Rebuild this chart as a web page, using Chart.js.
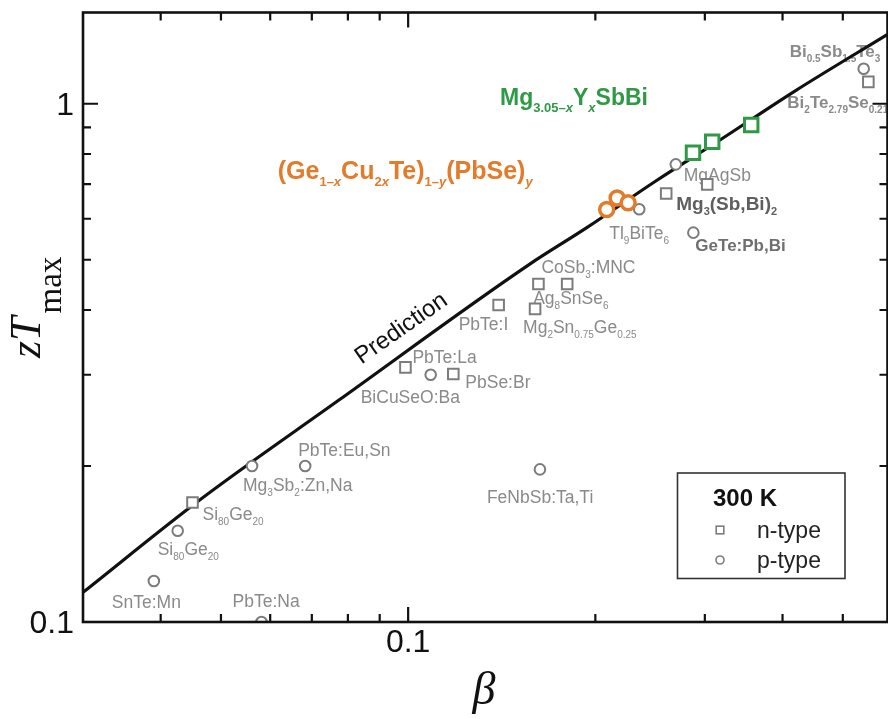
<!DOCTYPE html>
<html><head><meta charset="utf-8">
<script src="https://cdn.jsdelivr.net/npm/chart.js@4"></script>
<style>
html,body{margin:0;padding:0;background:#fff;overflow:hidden;width:888px;height:719px}
#wrap{position:absolute;left:0;top:0;width:900px;height:719px}
</style></head>
<body><div id="wrap"><canvas id="c" width="900" height="719"></canvas></div>
<script>
// ---------------- data ----------------
const xTicks = [0.03,0.04,0.05,0.06,0.07,0.08,0.09,0.1,0.2,0.3,0.4,0.5];
const yTicks = [0.1,0.2,0.3,0.4,0.5,0.6,0.7,0.8,0.9,1];
const xTickLabelValues = [0.1];
const xTickLabelTexts = ['0.1'];
const yTickLabelValues = [0.1, 1];
const yTickLabelTexts = ['0.1', '1'];

// Prediction curve
const predBeta = [0.03, 0.0461, 0.0772, 0.1569, 0.1935, 0.2502, 0.3155, 0.4187, 0.5893];
const predZT   = [0.1141, 0.1716, 0.2675, 0.4905, 0.576, 0.7095, 0.8474, 1.058, 1.360];

// p-type (circles)
const pNames = ['SnTe:Mn','Si_{80}Ge_{20}','PbTe:Na','Mg_{3}Sb_{2}:Zn,Na','PbTe:Eu,Sn','FeNbSb:Ta,Ti','BiCuSeO:Ba','Tl_{9}BiTe_{6}','MgAgSb','GeTe:Pb,Bi','Bi_{0.5}Sb_{1.5}Te_{3}'];
const pBeta  = [0.0390, 0.0426, 0.0581, 0.0561, 0.0683, 0.1629, 0.1087, 0.2353, 0.2694, 0.2875, 0.5402];
const pZT    = [0.120, 0.150, 0.100, 0.200, 0.200, 0.197, 0.300, 0.626, 0.764, 0.564, 1.168];

// n-type (squares)
const nNames = ['Si_{80}Ge_{20}','PbTe:La','PbSe:Br','PbTe:I','CoSb_{3}:MNC','Ag_{8}SnSe_{6}','Mg_{2}Sn_{0.75}Ge_{0.25}','Mg_{3}(Sb,Bi)_{2}','','Bi_{2}Te_{2.79}Se_{0.21}'];
const nBeta  = [0.0450, 0.0990, 0.1182, 0.1398, 0.1620, 0.1802, 0.1600, 0.2600, 0.3027, 0.5496];
const nZT    = [0.170, 0.310, 0.301, 0.409, 0.449, 0.449, 0.402, 0.671, 0.699, 1.102];

// (Ge1-xCu2xTe)1-y(PbSe)y
const geBeta = [0.2086, 0.2168, 0.2258];
const geZT   = [0.625, 0.658, 0.644];

// Mg3.05-xYxSbBi
const mgBeta = [0.2871, 0.3083, 0.3562];
const mgZT   = [0.8045, 0.8448, 0.9097];

// ---------------- styles ----------------
const SANS = '"Liberation Sans", Arial, sans-serif';
const SERIF = '"Liberation Serif", "Times New Roman", serif';
const GREY = '#7c7c7c';
const LGREY = '#8a8a8a';
const ORANGE = '#E27B2A';
const GREEN = '#2E9A45';

// label offsets (px) from their markers, and styles
const pLabelOff = [[-42,21],[-20,18],[-29,-21],[-9,19],[-7,-16],[-53,27],[-70,22],[-30,24],[8,10],[2,12],[-74,-18]];
const pLabelSty = ['n','n','n','n','n','n','n','n','n','g','b'];
const nLabelOff = [[10,11],[7,-11],[12,8],[-40,18.5],[3,-17],[-34,14],[-12,18],[10,10],[0,0],[-81,20]];
const nLabelSty = ['n','n','n','n','n','n','n','m','n','b'];
const labelStyles = {
  n: {size:17.5, sub:10, subDy:5, weight:'normal', color:LGREY},
  g: {size:17, sub:10, subDy:5, weight:'bold', color:'#6f6f6f'},
  m: {size:19, sub:11, subDy:5, weight:'bold', color:'#5e5e5e'},
  b: {size:17, sub:10, subDy:5, weight:'bold', color:'#8a8a8a'}
};

function zip(xs, ys){ return xs.map((x,i)=>({x:x, y:ys[i]})); }

// ---------------- rich text ----------------
function parseRich(str){
  const out=[]; let sub=false, it=false, buf='';
  const push=()=>{ if(buf){ out.push({t:buf, sub:sub, it:it}); buf=''; } };
  for(let i=0;i<str.length;i++){
    const c=str[i];
    if(c==='_' && str[i+1]==='{'){ push(); sub=true; i++; continue; }
    if(c==='}' && sub){ push(); sub=false; continue; }
    if(c==='*'){ push(); it=!it; continue; }
    buf+=c;
  }
  push(); return out;
}
function drawRich(ctx, str, x, cy, st){
  const segs=parseRich(str);
  const fam = st.family || SANS;
  const fontOf=(s)=>(s.it?'italic ':'')+(st.weight||'normal')+' '+(s.sub?st.sub:st.size)+'px '+fam;
  let w=0;
  segs.forEach(s=>{ ctx.font=fontOf(s); s.w=ctx.measureText(s.t).width; w+=s.w; });
  let cx = st.align==='right' ? x-w : (st.align==='center' ? x-w/2 : x);
  const base = cy + 0.358*st.size;
  ctx.fillStyle=st.color; ctx.textBaseline='alphabetic'; ctx.textAlign='left';
  segs.forEach(s=>{ ctx.font=fontOf(s); ctx.fillText(s.t, cx, base + (s.sub?st.subDy:0)); cx+=s.w; });
  return w;
}

// ---------------- plugin ----------------
const deco = {
  id:'deco',
  beforeDatasetsDraw(chart){
    const ctx=chart.ctx, xs=chart.scales.x, ys=chart.scales.y;
    ctx.save();
    pNames.forEach((t,i)=>{
      if(!t) return;
      const px=xs.getPixelForValue(pBeta[i]), py=ys.getPixelForValue(pZT[i]);
      drawRich(ctx, t, px+pLabelOff[i][0], py+pLabelOff[i][1], labelStyles[pLabelSty[i]]);
    });
    nNames.forEach((t,i)=>{
      if(!t) return;
      const px=xs.getPixelForValue(nBeta[i]), py=ys.getPixelForValue(nZT[i]);
      drawRich(ctx, t, px+nLabelOff[i][0], py+nLabelOff[i][1], labelStyles[nLabelSty[i]]);
    });
    // series titles
    drawRich(ctx, '(Ge_{1–*x*}Cu_{2*x*}Te)_{1–*y*}(PbSe)_{*y*}', xs.getPixelForValue(0.0617), ys.getPixelForValue(0.745),
      {size:25, sub:13, subDy:7, weight:'bold', color:ORANGE});
    drawRich(ctx, 'Mg_{3.05–*x*}Y_{*x*}SbBi', xs.getPixelForValue(0.2430), ys.getPixelForValue(1.030),
      {size:23, sub:13, subDy:7, weight:'bold', color:GREEN, align:'right'});
    // Prediction label
    const lx=xs.getPixelForValue(0.0975), ly=ys.getPixelForValue(0.368);
    ctx.translate(lx, ly); ctx.rotate(-35*Math.PI/180);
    ctx.font='normal 24px '+SANS; ctx.fillStyle='#111'; ctx.textAlign='center'; ctx.textBaseline='middle';
    ctx.fillText('Prediction', 0, 0);
    ctx.restore();
  },
  afterDatasetsDraw(chart){
    const ctx=chart.ctx, xs=chart.scales.x, ys=chart.scales.y, a=chart.chartArea;
    ctx.save();
    ctx.strokeStyle='#111'; ctx.lineWidth=2.6; ctx.lineCap='butt';
    ctx.strokeRect(a.left, a.top, a.right-a.left, a.bottom-a.top);
    const isMajor=v=>Math.abs(Math.log10(v)-Math.round(Math.log10(v)))<1e-9;
    ctx.lineWidth=2.2;
    xTicks.forEach(v=>{
      const x=xs.getPixelForValue(v); if(x<=a.left+1||x>=a.right-1) return;
      const L=isMajor(v)?15:8;
      ctx.beginPath(); ctx.moveTo(x,a.bottom); ctx.lineTo(x,a.bottom-L);
      ctx.moveTo(x,a.top); ctx.lineTo(x,a.top+L); ctx.stroke();
    });
    yTicks.forEach(v=>{
      const y=ys.getPixelForValue(v); if(y<=a.top+1||y>=a.bottom-1) return;
      const L=isMajor(v)?15:8;
      ctx.beginPath(); ctx.moveTo(a.left,y); ctx.lineTo(a.left+L,y);
      ctx.moveTo(a.right,y); ctx.lineTo(a.right-L,y); ctx.stroke();
    });
    // tick labels
    ctx.fillStyle='#111'; ctx.font='normal 32px '+SANS;
    ctx.textAlign='center'; ctx.textBaseline='top';
    xTickLabelValues.forEach((v,i)=>{ ctx.fillText(xTickLabelTexts[i], xs.getPixelForValue(v), a.bottom+5); });
    ctx.textAlign='right'; ctx.textBaseline='middle';
    yTickLabelValues.forEach((v,i)=>{ ctx.fillText(yTickLabelTexts[i], a.left-9, ys.getPixelForValue(v)+2); });
    // axis titles
    ctx.textAlign='center'; ctx.textBaseline='alphabetic';
    ctx.font='italic 46px '+SERIF;
    ctx.fillText('β', 484, 704);
    ctx.save();
    ctx.translate(40, 358); ctx.rotate(-Math.PI/2);
    ctx.textAlign='left';
    ctx.font='italic 44px '+SERIF; ctx.fillText('z',0,0);
    let w=ctx.measureText('z').width;
    ctx.fillText('T',w,0); w+=ctx.measureText('T').width+3;
    ctx.font='normal 33px '+SERIF; ctx.fillText('max', w, 21);
    ctx.restore();
    // legend
    ctx.lineWidth=1.6; ctx.strokeStyle='#333';
    ctx.strokeRect(677.5, 473, 167.5, 105.5);
    ctx.fillStyle='#111'; ctx.textAlign='left'; ctx.textBaseline='middle';
    ctx.font='bold 24px '+SANS; ctx.fillText('300 K', 713, 499);
    ctx.font='normal 23px '+SANS; ctx.fillStyle='#222';
    ctx.fillText('n-type', 757, 532); ctx.fillText('p-type', 757, 562);
    ctx.strokeStyle=GREY; ctx.lineWidth=1.6;
    ctx.strokeRect(716.2, 526.2, 7.6, 7.6);
    ctx.beginPath(); ctx.arc(720, 560, 4, 0, Math.PI*2); ctx.stroke();
    ctx.restore();
  }
};

new Chart(document.getElementById('c'), {
  type:'scatter',
  data:{ datasets:[
    {label:'Mg3.05-xYxSbBi', data:zip(mgBeta,mgZT), pointStyle:'rect', pointRadius:9.5, pointBorderWidth:3,
     pointBorderColor:GREEN, pointBackgroundColor:'#fff', clip:0},
    {label:'(Ge1-xCu2xTe)1-y(PbSe)y', data:zip(geBeta,geZT), pointStyle:'circle', pointRadius:7, pointBorderWidth:3.5,
     pointBorderColor:ORANGE, pointBackgroundColor:'#fff', clip:0},
    {label:'n-type', data:zip(nBeta,nZT), pointStyle:'rect', pointRadius:7.5, pointBorderWidth:2,
     pointBorderColor:GREY, pointBackgroundColor:'#fff', clip:0},
    {label:'p-type', data:zip(pBeta,pZT), pointStyle:'circle', pointRadius:5.3, pointBorderWidth:2,
     pointBorderColor:GREY, pointBackgroundColor:'#fff', clip:0},
    {label:'Prediction', data:zip(predBeta,predZT), showLine:true, borderColor:'#111', borderWidth:3.2,
     pointRadius:0, cubicInterpolationMode:'monotone', fill:false, clip:0}
  ]},
  options:{
    responsive:false, animation:false, devicePixelRatio:1,
    layout:{padding:{left:83, right:7, top:12, bottom:97}},
    plugins:{legend:{display:false}, tooltip:{enabled:false}},
    events:[],
    scales:{
      x:{type:'logarithmic', min:0.03, max:0.59, display:false},
      y:{type:'logarithmic', min:0.1, max:1.5, display:false}
    }
  },
  plugins:[deco]
});
</script>
</body></html>
